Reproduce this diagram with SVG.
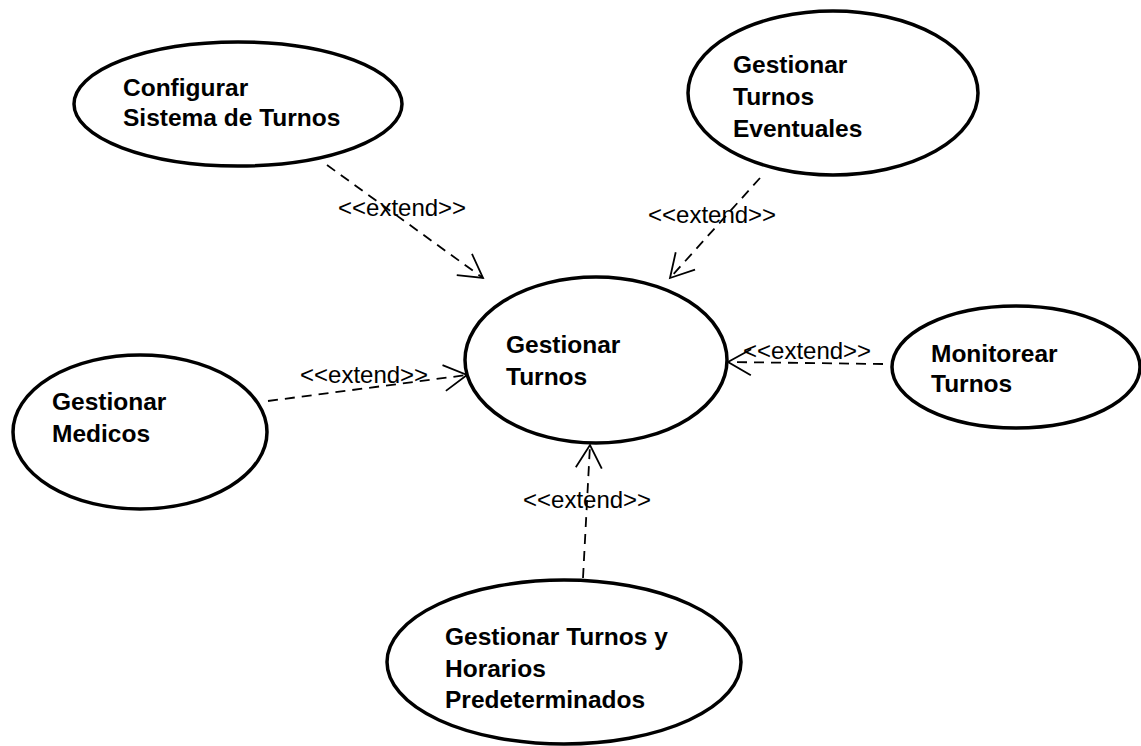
<svg xmlns="http://www.w3.org/2000/svg" width="1141" height="746" viewBox="0 0 1141 746">
  <style>
    .uc { fill: #ffffff; stroke: #000000; stroke-width: 3.5; }
    .name { font-family: "Liberation Sans", Arial, sans-serif; font-weight: bold; font-size: 24.5px; fill: #000000; }
    .dep { fill: none; stroke: #000000; stroke-width: 1.8; stroke-dasharray: 10 7; }
    .stereo { font-family: "Liberation Sans", Arial, sans-serif; font-size: 24px; fill: #000000; }
  </style>
  <defs>
    <marker id="open-arrow" markerUnits="userSpaceOnUse" markerWidth="30" markerHeight="30" refX="0" refY="0" viewBox="-26 -15 30 30" orient="auto" overflow="visible">
      <path d="M -23 -13 L 0 0 L -23 13" fill="none" stroke="#000000" stroke-width="1.8"/>
    </marker>
  </defs>
  <rect width="1141" height="746" fill="#ffffff"/>

  <!-- extend relationships -->
  <g id="connectors">
    <line class="dep" x1="327" y1="165" x2="483" y2="278" marker-end="url(#open-arrow)"/>
    <line class="dep" x1="760" y1="178" x2="670" y2="278" marker-end="url(#open-arrow)"/>
    <line class="dep" x1="268" y1="401" x2="467" y2="375" marker-end="url(#open-arrow)"/>
    <line class="dep" x1="883" y1="364" x2="728" y2="362" marker-end="url(#open-arrow)"/>
    <line class="dep" x1="583" y1="578" x2="590" y2="445" marker-end="url(#open-arrow)"/>
    <text class="stereo" x="338" y="216">&lt;&lt;extend&gt;&gt;</text>
    <text class="stereo" x="648" y="223">&lt;&lt;extend&gt;&gt;</text>
    <text class="stereo" x="300" y="383">&lt;&lt;extend&gt;&gt;</text>
    <text class="stereo" x="743" y="359">&lt;&lt;extend&gt;&gt;</text>
    <text class="stereo" x="523" y="508">&lt;&lt;extend&gt;&gt;</text>
  </g>

  <g id="configurar-sistema">
    <ellipse class="uc" cx="238" cy="104" rx="164" ry="62"/>
    <text class="name" x="123" y="96">Configurar</text>
    <text class="name" x="123" y="126">Sistema de Turnos</text>
  </g>

  <g id="turnos-eventuales">
    <ellipse class="uc" cx="833" cy="93" rx="145" ry="82"/>
    <text class="name" x="733" y="73">Gestionar</text>
    <text class="name" x="733" y="105">Turnos</text>
    <text class="name" x="733" y="137">Eventuales</text>
  </g>

  <g id="gestionar-turnos">
    <ellipse class="uc" cx="596" cy="360" rx="131" ry="83"/>
    <text class="name" x="506" y="353">Gestionar</text>
    <text class="name" x="506" y="385">Turnos</text>
  </g>

  <g id="gestionar-medicos">
    <ellipse class="uc" cx="140" cy="432" rx="127" ry="77"/>
    <text class="name" x="52" y="410">Gestionar</text>
    <text class="name" x="52" y="442">Medicos</text>
  </g>

  <g id="monitorear-turnos">
    <ellipse class="uc" cx="1016" cy="367" rx="124" ry="61"/>
    <text class="name" x="931" y="362">Monitorear</text>
    <text class="name" x="931" y="392">Turnos</text>
  </g>

  <g id="turnos-predeterminados">
    <ellipse class="uc" cx="564" cy="662" rx="177" ry="82"/>
    <text class="name" x="445" y="645">Gestionar Turnos y</text>
    <text class="name" x="445" y="677">Horarios</text>
    <text class="name" x="445" y="708">Predeterminados</text>
  </g>
</svg>
